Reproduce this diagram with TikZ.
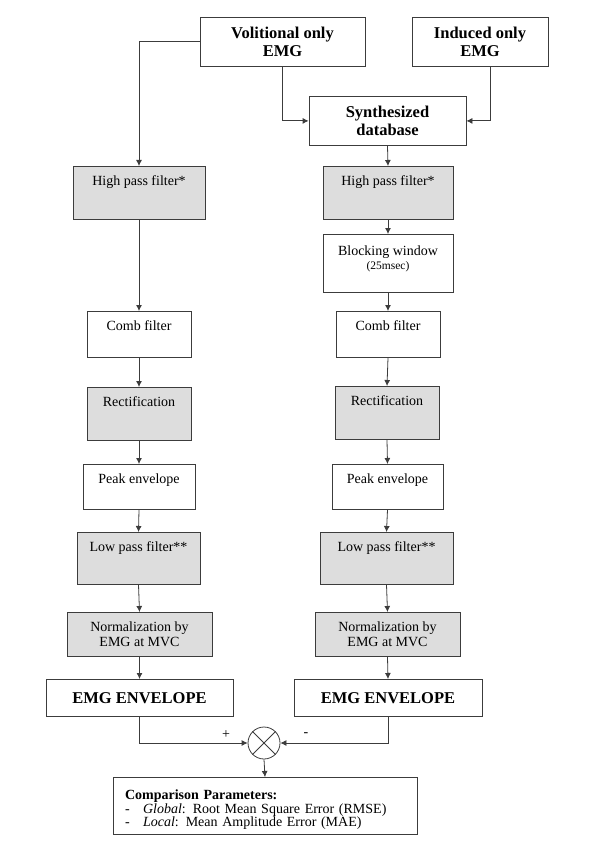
\documentclass[tikz,border=0pt]{standalone}
\usepackage{fontspec}
\setmainfont{Liberation Serif}
\usetikzlibrary{arrows.meta}
\definecolor{boxgray}{RGB}{221,221,221}
\definecolor{linegray}{RGB}{60,60,60}

\begin{document}
\begin{tikzpicture}[x=1pt, y=-1pt]
\useasboundingbox (0,0) rectangle (600,850);

\coordinate (S1_1) at (282.5, 17);
\coordinate (S1_2) at (480, 17);
\coordinate (S2_1) at (387.5, 96);
\coordinate (F1_1) at (139, 166);
\coordinate (F1_2) at (388, 166);
\coordinate (F2_2) at (388, 234);
\coordinate (F3_1) at (139, 311);
\coordinate (F3_2) at (388, 311);
\coordinate (F4_1) at (139, 387);
\coordinate (F4_2) at (387, 386);
\coordinate (F5_1) at (139, 464);
\coordinate (F5_2) at (387.5, 464);
\coordinate (F6_1) at (138.5, 532);
\coordinate (F6_2) at (386.5, 532);
\coordinate (F7_1) at (139.5, 612);
\coordinate (F7_2) at (387.5, 612);
\coordinate (E1_1) at (139.5, 679);
\coordinate (E1_2) at (388, 679);
\coordinate (X1) at (264, 743);
\coordinate (C1) at (265, 777);


\tikzset{BoxStyle/.style = {
 draw = linegray,
 line width = 0.8pt,
 fill = white,
 minimum width = #1,
 inner xsep = 2pt,
 inner ysep = 5pt,
 anchor = north,
 align = center,
 font = \fontsize{14}{15}\selectfont} }
\tikzset{GrayStyle/.style = {BoxStyle=#1, fill=boxgray} }
\tikzset{TitleStyle/.style = {BoxStyle=#1, font=\fontsize{16.5}{18.5}\selectfont\bfseries} }
\tikzset{TopText/.style = {text height=14pt, text depth=#1} }

\node[TitleStyle=165pt, minimum height=49pt] (Vol) at (S1_1) {Volitional only\\EMG};
\node[TitleStyle=136pt, minimum height=49pt] (Ind) at (S1_2) {Induced only\\EMG};
\node[TitleStyle=157pt, minimum height=49pt] (Syn) at (S2_1) {Synthesized\\database};

\node[GrayStyle=132pt, TopText=29pt] (HP1) at (F1_1) {High pass filter*};
\node[GrayStyle=130pt, TopText=29pt] (HP2) at (F1_2) {High pass filter*};
\node[BoxStyle=130pt, minimum height=58pt, text depth=11pt] (BW2) at (F2_2)
 {Blocking window\\[-1pt]{\fontsize{11.5}{12}\selectfont(25msec)}};
\node[BoxStyle=104pt, TopText=22pt] (CF1) at (F3_1) {Comb filter};
\node[BoxStyle=104pt, TopText=22pt] (CF2) at (F3_2) {Comb filter};
\node[GrayStyle=104pt, TopText=29pt] (RC1) at (F4_1) {Rectification};
\node[GrayStyle=104pt, TopText=29pt] (RC2) at (F4_2) {Rectification};
\node[BoxStyle=112pt, TopText=21pt] (PE1) at (F5_1) {Peak envelope};
\node[BoxStyle=111pt, TopText=21pt] (PE2) at (F5_2) {Peak envelope};
\node[GrayStyle=123pt, TopText=28pt] (LP1) at (F6_1) {Low pass filter**};
\node[GrayStyle=133pt, TopText=28pt] (LP2) at (F6_2) {Low pass filter**};
\node[GrayStyle=145pt, minimum height=44pt] (NM1) at (F7_1) {Normalization by\\EMG at MVC};
\node[GrayStyle=145pt, minimum height=44pt] (NM2) at (F7_2) {Normalization by\\EMG at MVC};
\node[TitleStyle=187pt, minimum height=37pt] (EV1) at (E1_1) {EMG ENVELOPE};
\node[TitleStyle=188pt, minimum height=37pt] (EV2) at (E1_2) {EMG ENVELOPE};

\node[draw=linegray, line width=0.8pt, circle, minimum size=32pt, inner sep=0pt] (Sum) at (X1) {};
\draw[linegray, line width=0.8pt] (Sum.north west) -- (Sum.south east) (Sum.north east) -- (Sum.south west);

\node[BoxStyle=304pt, minimum height=57pt, text width=280pt, inner xsep=12pt, align=left,
 text height=17pt, text depth=30pt, font=\fontsize{14}{12}\selectfont] (Cmp) at (C1)
 {\textbf{Comparison Parameters:}\\
  \makebox[18pt][l]{-}\textit{Global}: Root Mean Square Error (RMSE)\\
  \makebox[18pt][l]{-}\textit{Local}: Mean Amplitude Error (MAE)};


\tikzset{EdgeStyle/.style = {draw=linegray, line width=0.8pt, -{Latex[length=6pt, width=6pt]}} }

\draw[EdgeStyle] (Vol.west) -| (HP1.north);
\draw[EdgeStyle] (Vol.south) |- (Syn.west);
\draw[EdgeStyle] ([xshift=10pt]Ind.south) |- (Syn.east);
\draw[EdgeStyle] (Syn.south) -- (HP2.north);
\draw[EdgeStyle] (HP1.south) -- (CF1.north);
\draw[EdgeStyle] (HP2.south) -- (BW2.north);
\draw[EdgeStyle] (BW2.south) -- (CF2.north);
\draw[EdgeStyle] (CF1.south) -- (RC1.north);
\draw[EdgeStyle] (CF2.south) -- (RC2.north);
\draw[EdgeStyle] (RC1.south) -- (PE1.north);
\draw[EdgeStyle] (RC2.south) -- (PE2.north);
\draw[EdgeStyle] (PE1.south) -- (LP1.north);
\draw[EdgeStyle] (PE2.south) -- (LP2.north);
\draw[EdgeStyle] (LP1.south) -- (NM1.north);
\draw[EdgeStyle] (LP2.south) -- (NM2.north);
\draw[EdgeStyle] (NM1.south) -- (EV1.north);
\draw[EdgeStyle] (NM2.south) -- (EV2.north);
\draw[EdgeStyle] (EV1.south) |- (Sum.west);
\draw[EdgeStyle] (EV2.south) |- (Sum.east);
\draw[EdgeStyle] (Sum.south) -- (Cmp.north);

\node[font=\fontsize{14}{15}\selectfont] (Plus) at (226, 735) {+};
\node[font=\fontsize{14}{15}\selectfont] (Minus) at (306, 735) {-};

\end{tikzpicture}
\end{document}
